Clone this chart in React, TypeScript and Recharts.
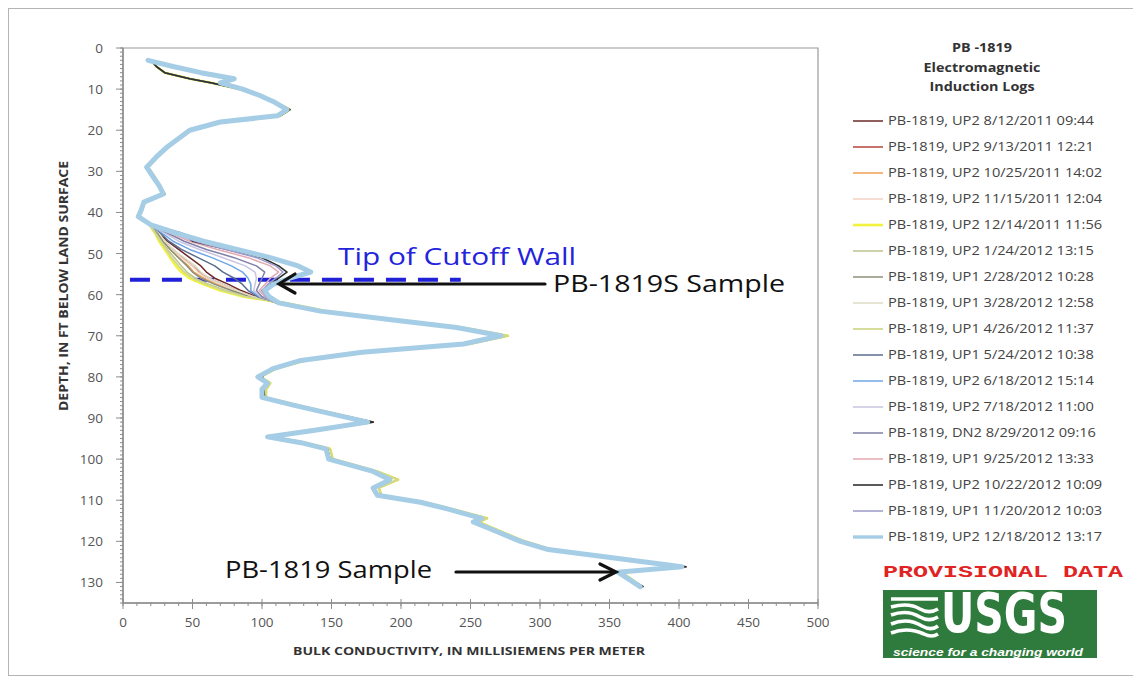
import React from "react";
import {
  ScatterChart,
  Scatter,
  XAxis,
  YAxis,
  ReferenceLine,
  ReferenceArea,
} from "recharts";

const SERIES_NAMES = [
  "PB-1819, UP2 8/12/2011 09:44",
  "PB-1819, UP2 9/13/2011 12:21",
  "PB-1819, UP2 10/25/2011 14:02",
  "PB-1819, UP2 11/15/2011 12:04",
  "PB-1819, UP2 12/14/2011 11:56",
  "PB-1819, UP2 1/24/2012 13:15",
  "PB-1819, UP1 2/28/2012 10:28",
  "PB-1819, UP1 3/28/2012 12:58",
  "PB-1819, UP1 4/26/2012 11:37",
  "PB-1819, UP1 5/24/2012 10:38",
  "PB-1819, UP2 6/18/2012 15:14",
  "PB-1819, UP2 7/18/2012 11:00",
  "PB-1819, DN2 8/29/2012 09:16",
  "PB-1819, UP1 9/25/2012 13:33",
  "PB-1819, UP2 10/22/2012 10:09",
  "PB-1819, UP1 11/20/2012 10:03",
  "PB-1819, UP2 12/18/2012 13:17",
];

const SERIES_COLORS = [
  "#6e2a2a", "#b4463c", "#f0a052", "#f2d2c2", "#f2f23c", "#b9c48e",
  "#8b9078", "#deddc6", "#d2d88e", "#5a6d8e", "#6fa6e6", "#c9c5e2",
  "#7f7fa9", "#e3a9b2", "#2f2f2f", "#9b98c9", "#a6cde6",
];
const SERIES_WIDTHS = [1.5, 1.5, 1.5, 1.5, 2.6, 1.5, 1.5, 1.5, 1.8, 1.5, 1.5, 1.5, 1.5, 1.5, 1.6, 1.5, 5];

// depth (ft) of the upper section and the two shapes it takes
const UPPER_DEPTH = [3, 4.5, 6, 7.5, 8.5, 10, 11.5, 13, 15, 16.5, 18, 20, 22, 24, 26.5, 29, 31.5, 33.5, 35.5, 37.5, 39.5, 41];
const UPPER_A = [18, 36, 56, 80, 70, 86, 98, 108, 118, 111, 70, 48, 40, 32, 24, 17, 22, 26, 29, 15, 13, 11];
const UPPER_B = [20, 24, 30, 48, 64, 84, 97, 109, 120, 113, 72, 49, 41, 33, 25, 18, 23, 26, 30, 16, 13, 12];

// section near the tip of the cutoff wall, where the logs spread apart
const FAN_DEPTH = [43, 45, 47, 49, 51, 53, 54.5, 56, 57.5, 59, 60.5];
const FAN_0812 = [20, 26, 32, 40, 48, 56, 60, 66, 76, 85, 96];
const FAN_0913 = [20, 25, 30, 36, 43, 50, 55, 62, 72, 82, 94];
const FAN_1025 = [20, 24, 29, 34, 40, 47, 51, 58, 68, 79, 92];
const FAN_1115 = [20, 25, 30, 36, 42, 50, 54, 60, 70, 80, 93];
const FAN_1214 = [19, 23, 26, 30, 34, 38, 42, 48, 58, 70, 87];
const FAN_0124 = [20, 24, 28, 32, 37, 42, 46, 52, 62, 74, 90];
const FAN_0228 = [20, 25, 29, 34, 40, 46, 50, 56, 66, 78, 92];
const FAN_0328 = [20, 26, 30, 36, 44, 52, 56, 62, 72, 82, 94];
const FAN_0426 = [19, 23, 27, 31, 35, 40, 44, 50, 60, 72, 88];
const FAN_0524 = [20, 27, 33, 42, 54, 66, 72, 80, 86, 90, 97];
const FAN_0618 = [20, 28, 36, 48, 64, 78, 86, 90, 92, 92, 98];
const FAN_0718 = [20, 30, 40, 55, 72, 88, 95, 96, 95, 94, 99];
const FAN_0829 = [20, 32, 44, 60, 80, 96, 102, 100, 98, 96, 100];
const FAN_0925 = [20, 34, 48, 68, 90, 106, 112, 106, 102, 98, 102];
const FAN_1022 = [20, 42, 50, 75, 100, 112, 118, 112, 106, 100, 104];
const FAN_1120 = [20, 36, 52, 74, 96, 110, 115, 110, 104, 100, 103];
const FAN_1218 = [20, 38, 58, 82, 106, 126, 135, 120, 108, 102, 105];
const FANS = [
  FAN_0812, FAN_0913, FAN_1025, FAN_1115, FAN_1214, FAN_0124, FAN_0228, FAN_0328, FAN_0426,
  FAN_0524, FAN_0618, FAN_0718, FAN_0829, FAN_0925, FAN_1022, FAN_1120, FAN_1218,
];

// lower section, three close variants
const LOWER_DEPTH = [62, 64, 66, 68, 70, 72, 74, 76, 78, 80, 81.5, 83, 85, 87, 89, 91, 93, 94.6, 96, 97.5, 100, 103, 105, 107, 108.8, 110.5, 112, 114.4, 115.3, 117.5, 120, 122, 124, 126.2, 127.5, 129, 131];
const LOWER_A = [112, 142, 190, 240, 272, 245, 172, 128, 108, 97, 104, 100, 100, 124, 150, 176, 138, 104, 128, 146, 148, 180, 192, 180, 183, 214, 232, 258, 252, 268, 286, 306, 352, 402, 356, 363, 372];
const LOWER_B = [116, 146, 194, 244, 277, 249, 176, 131, 110, 99, 106, 103, 103, 127, 152, 178, 141, 107, 131, 149, 151, 183, 198, 184, 186, 217, 235, 262, 256, 271, 289, 308, 354, 400, 358, 365, 373];
const LOWER_C = [110, 140, 187, 237, 269, 242, 170, 126, 106, 100, 103, 101, 102, 127, 153, 180, 140, 106, 129, 147, 149, 181, 191, 179, 182, 212, 230, 256, 254, 266, 284, 305, 353, 405, 357, 364, 374];

const UPPER_OF = ["B", "B", "B", "A", "B", "B", "B", "A", "B", "B", "A", "A", "A", "A", "B", "A", "A"];
const LOWER_OF = ["C", "B", "B", "A", "B", "B", "A", "A", "B", "A", "A", "A", "A", "A", "C", "A", "A"];

const X_TICKS = [0, 50, 100, 150, 200, 250, 300, 350, 400, 450, 500];
const Y_TICKS = [0, 10, 20, 30, 40, 50, 60, 70, 80, 90, 100, 110, 120, 130];
const X_ALL = Array.from({ length: 51 }, (_, i) => i * 10);
const Y_ALL = Array.from({ length: 136 }, (_, i) => i);

const WALL_DEPTH = 56.4;
const WALL_FROM = 5;
const WALL_TO = 243;

const upperSets: Record<string, number[]> = { A: UPPER_A, B: UPPER_B };
const lowerSets: Record<string, number[]> = { A: LOWER_A, B: LOWER_B, C: LOWER_C };

const series = SERIES_NAMES.map((name, i) => {
  const up = upperSets[UPPER_OF[i]];
  const low = lowerSets[LOWER_OF[i]];
  return {
    name,
    color: SERIES_COLORS[i],
    width: SERIES_WIDTHS[i],
    points: [
      ...UPPER_DEPTH.map((d, k) => ({ d, v: up[k] })),
      ...FAN_DEPTH.map((d, k) => ({ d, v: FANS[i][k] })),
      ...LOWER_DEPTH.map((d, k) => ({ d, v: low[k] })),
    ],
  };
});

const AXIS = "#8c8c8c";
const FONT = "'Open Sans', 'Liberation Sans', sans-serif";
const Y_TICK_SIZE = 3;
const Y_TICK_MARGIN = 14;
const X_TICK_SIZE = 3;
const X_TICK_MARGIN = 8;

function YTick(props: any) {
  const { x, y, payload } = props;
  const ax = x + Y_TICK_MARGIN + Y_TICK_SIZE;
  if (!Y_TICKS.includes(payload.value)) return <g />;
  return (
    <g>
      <line x1={ax - 7} x2={ax} y1={y} y2={y} stroke={AXIS} />
      <text x={ax - 20} y={y} dy={5} textAnchor="end" fill="#555" fontSize={13.5} fontFamily={FONT}>
        {payload.value}
      </text>
    </g>
  );
}

function XTick(props: any) {
  const { x, y, payload } = props;
  const ay = y - X_TICK_MARGIN - X_TICK_SIZE;
  if (!X_TICKS.includes(payload.value)) return <g />;
  return (
    <g>
      <line x1={x} x2={x} y1={ay - 4} y2={ay + 6} stroke={AXIS} />
      <text x={x} y={ay + 24} textAnchor="middle" fill="#555" fontSize={13.5} fontFamily={FONT}>
        {payload.value}
      </text>
    </g>
  );
}

const NoDot = () => <g />;

function UsgsLogo() {
  return (
    <g>
      <rect x={883} y={590} width={214} height={68} fill="#2f7b3d" />
      <g stroke="#fff" strokeWidth={3.6} fill="none">
        <path d="M891 599 L938 599" />
        <path d="M891 607 C902 604 912 604 920 609 C927 613 933 612 938 609" />
        <path d="M891 615 C902 611 912 612 920 617 C927 621 933 620 938 617" />
        <path d="M891 624 C903 619 914 621 922 626 C929 630 934 629 938 626" />
        <path d="M891 633 C904 628 915 630 924 634 C930 637 935 636 938 634" />
      </g>
      <text
        transform="translate(941 632) scale(1 1.22)"
        fill="#fff"
        fontSize={45}
        fontWeight="bold"
        fontFamily="'Liberation Sans Narrow', 'DejaVu Sans Condensed', sans-serif"
        textLength={126}
        lengthAdjust="spacingAndGlyphs"
      >
        USGS
      </text>
      <text
        x={893}
        y={656}
        fill="#fff"
        fontSize={10}
        fontStyle="italic"
        fontWeight="bold"
        fontFamily="'Liberation Sans', sans-serif"
        textLength={190}
        lengthAdjust="spacingAndGlyphs"
      >
        science for a changing world
      </text>
    </g>
  );
}

function Overlay() {
  const rowY = (i: number) => 121 + i * 26;
  return (
    <svg
      width={1141}
      height={679}
      style={{ position: "absolute", left: -9, top: -9, pointerEvents: "none" }}
    >
      {/* legend title */}
      <g fontFamily={FONT} fontWeight="bold" fill="#333" fontSize={12.5} textAnchor="middle">
        <text transform="translate(982 52) scale(1.15 1)">PB -1819</text>
        <text transform="translate(982 72) scale(1.15 1)">Electromagnetic</text>
        <text transform="translate(982 91) scale(1.15 1)">Induction Logs</text>
      </g>
      {series.map((s, i) => (
        <g key={s.name}>
          <line
            x1={853}
            x2={883}
            y1={rowY(i)}
            y2={rowY(i)}
            stroke={s.color}
            strokeWidth={Math.min(s.width, 3.4)}
          />
          <text
            transform={`translate(888 ${rowY(i) + 4}) scale(1.17 1)`}
            fontSize={12.5}
            fill="#444"
            fontFamily={FONT}
          >
            {s.name}
          </text>
        </g>
      ))}
      <text
        x={883}
        y={577}
        fill="#e02424"
        fontSize={17}
        fontWeight="bold"
        fontFamily="'Liberation Mono', 'DejaVu Sans Mono', monospace"
        textLength={240}
        lengthAdjust="spacingAndGlyphs"
      >
        PROVISIONAL DATA
      </text>
      <UsgsLogo />

      {/* annotations */}
      <text x={338} y={265} fill="#2323dc" fontSize={23} fontFamily={FONT} textLength={238} lengthAdjust="spacingAndGlyphs">
        Tip of Cutoff Wall
      </text>
      <g stroke="#111" strokeWidth={3.2} fill="none" strokeLinecap="round">
        <line x1={545} y1={284} x2={281} y2={284} />
        <polyline points="295,274 279,284 295,293" />
        <line x1={456} y1={572} x2={613} y2={572} />
        <polyline points="600,564 616,572 600,580" />
      </g>
      <text x={553} y={292} fill="#111" fontSize={23} fontFamily={FONT} textLength={232} lengthAdjust="spacingAndGlyphs">
        PB-1819S Sample
      </text>
      <text x={225} y={578} fill="#111" fontSize={23} fontFamily={FONT} textLength={207} lengthAdjust="spacingAndGlyphs">
        PB-1819 Sample
      </text>

      {/* axis titles */}
      <text
        x={293}
        y={655}
        fill="#333"
        fontSize={10.5}
        fontWeight="bold"
        fontFamily={FONT}
        textLength={352}
        lengthAdjust="spacingAndGlyphs"
      >
        BULK CONDUCTIVITY, IN MILLISIEMENS PER METER
      </text>
      <text
        transform="translate(68 286) rotate(-90)"
        textAnchor="middle"
        fill="#333"
        fontSize={11.5}
        fontWeight="bold"
        fontFamily={FONT}
        textLength={250}
        lengthAdjust="spacingAndGlyphs"
      >
        DEPTH, IN FT BELOW LAND SURFACE
      </text>
    </svg>
  );
}

export default function App() {
  return (
    <div
      style={{
        position: "relative",
        width: 1124,
        height: 666,
        border: "1px solid #b4b4b4",
        background: "#fff",
        fontFamily: FONT,
      }}
    >
      <ScatterChart width={820} height={662} margin={{ top: 39, right: 11, bottom: 38, left: 74 }}>
        <XAxis
          type="number"
          dataKey="v"
          domain={[0, 500]}
          ticks={X_ALL}
          interval={0}
          allowDataOverflow
          height={30}
          tickSize={X_TICK_SIZE}
          tickMargin={X_TICK_MARGIN}
          axisLine={{ stroke: AXIS, strokeWidth: 1.5 }}
          tickLine={{ stroke: AXIS }}
          tick={<XTick />}
        />
        <YAxis
          type="number"
          dataKey="d"
          domain={[0, 135]}
          reversed
          ticks={Y_ALL}
          interval={0}
          allowDataOverflow
          width={40}
          tickSize={Y_TICK_SIZE}
          tickMargin={Y_TICK_MARGIN}
          axisLine={{ stroke: AXIS, strokeWidth: 1.5 }}
          tickLine={{ stroke: AXIS }}
          tick={<YTick />}
        />
        <ReferenceArea x1={0} x2={500} y1={0} y2={135} fill="none" stroke="#9a9a9a" strokeWidth={1.2} />
        {series.map((s) => (
          <Scatter
            key={s.name}
            name={s.name}
            data={s.points}
            fill={s.color}
            line={{ stroke: s.color, strokeWidth: s.width, strokeLinejoin: "round", strokeLinecap: "round" }}
            lineJointType="linear"
            shape={NoDot}
            isAnimationActive={false}
          />
        ))}
        <ReferenceLine
          segment={[
            { x: WALL_FROM, y: WALL_DEPTH },
            { x: WALL_TO, y: WALL_DEPTH },
          ]}
          stroke="#2020d8"
          strokeWidth={4}
          strokeDasharray="20 12"
          ifOverflow="visible"
        />
      </ScatterChart>
      <Overlay />
    </div>
  );
}
